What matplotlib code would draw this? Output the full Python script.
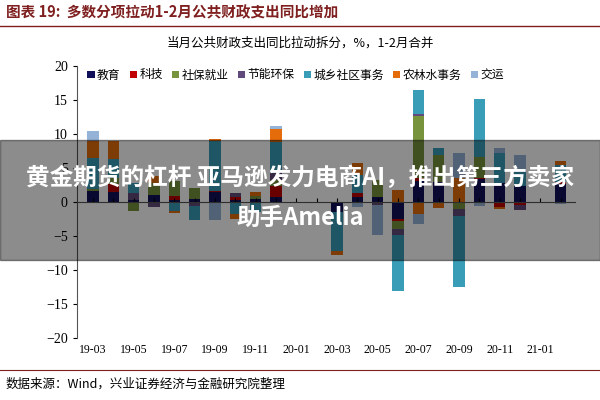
import numpy as np
import matplotlib
matplotlib.use("Agg")
import matplotlib.pyplot as plt
from matplotlib.patches import Rectangle

plt.rcParams['font.family'] = ['Noto Sans CJK SC']

months = ["19-03","19-04","19-05","19-06","19-07","19-08","19-09","19-10","19-11","19-12",
          "20-01","20-02","20-03","20-04","20-05","20-06","20-07","20-08","20-09","20-10",
          "20-11","20-12","21-01","21-02"]
tick_labels = ["19-03","19-05","19-07","19-09","19-11","20-01","20-03","20-05","20-07","20-09","20-11","21-01"]
series_names = ["教育","科技","社保就业","节能环保","城乡社区事务","农林水事务","交运"]
edu   = [1.6, 1.5, 0.3, 1.0, 0.3, 0.4, 1.5, 0.3, 0.4, 0.8, 0, 0, -1.5, 0.8, 0.8, -2.5, 3.1, 2.9, 0, 3.4, 2.8, 2.3, 0, 2.6]
tech  = [0, 1.2, 0, 0, 0.6, 0, 0.1, 0.5, 0, 1.6, 0, 0, 0, 0.5, 0, -0.3, 0.5, 0, 0, 0.2, -0.7, -0.4, 0, 0.3]
soc   = [0.3, 0.9, -1.3, 1.8, 2.2, 1.6, 0, 0, 0.5, 0.8, 0, 0, 0, 0, 2.4, -1.2, 9.0, 4.0, -1.1, 3.0, 0, 0, 0, 0]
env   = [0, 0, 1.0, -0.8, 0, -0.6, -0.2, 0.5, 0, 1.0, 0, 0, 0, 0, -0.5, -0.8, 0.3, 0, -1.0, 0, 0, -0.8, 0, 0]
urban = [4.6, 2.7, 1.5, 0, -1.3, -2.1, 7.3, -1.7, -1.5, 4.6, 0, 0, -5.7, 2.6, 0, -8.3, 3.6, 1.0, -10.4, 8.6, 4.4, 2.1, 0, 2.6]
agri  = [2.4, 2.7, 0, 1.0, -0.3, 0, 0.4, -0.8, 0.5, 1.9, 0, 0, -0.6, 1.8, 0, 1.8, -1.7, -0.9, 3.6, 0, -0.3, 0, 0, 0.5]
trans = [1.6, 0, 0, 0, 0, 0, -2.5, 0, 0, 0.5, 0, 0, 0, -0.8, -4.3, 0, -1.6, 0, 3.6, -0.6, 0.8, 2.5, 0, -0.3]
colors = ["#10105A","#C00000","#77933C","#604A7B","#3A9DB8","#E46C0A","#95B3D7"]

data = [edu, tech, soc, env, urban, agri, trans]

fig = plt.figure(figsize=(6, 4), dpi=100)
ax = fig.add_axes([0.128, 0.155, 0.83, 0.68])
x = np.arange(len(months))
pos_base = np.zeros(len(months))
neg_base = np.zeros(len(months))
for name, vals, c in zip(series_names, data, colors):
    v = np.array(vals, dtype=float)
    p = np.where(v > 0, v, 0)
    n = np.where(v < 0, v, 0)
    ax.bar(x, p, 0.55, bottom=pos_base, color=c, label=name)
    ax.bar(x, n, 0.55, bottom=neg_base, color=c)
    pos_base += p
    neg_base += n

ax.set_ylim(-20, 20)
ax.set_xlim(-0.8, len(months) - 0.3)
ax.set_yticks(range(-20, 21, 5))
ax.tick_params(axis='y', labelsize=10, length=3, direction='out')
for t in ax.get_yticklabels():
    t.set_fontfamily('Liberation Serif')
ax.set_xticks(x)
ax.set_xticklabels([])
ax.tick_params(axis='x', length=3, direction='in')
ax.spines['top'].set_visible(False)
ax.spines['right'].set_visible(False)
ax.spines['bottom'].set_position(('data', 0))
ax.spines['bottom'].set_color('#555555')
ax.spines['left'].set_color('#555555')
for i, lab in zip(range(0, 24, 2), tick_labels):
    ax.text(i, -21.8, lab, ha='center', va='center', fontsize=8.5, fontfamily='Liberation Serif')

ax.legend(loc='upper left', bbox_to_anchor=(0.0, 1.03), ncol=7, frameon=False,
          fontsize=8.5, handlelength=0.6, handleheight=0.6, columnspacing=0.8, handletextpad=0.2)

fig.text(0.5, 0.892, "当月公共财政支出同比拉动拆分，%，1-2月合并", ha='center', va='center', fontsize=9)
fig.text(0.01, 0.968, "图表 19:  多数分项拉动1-2月公共财政支出同比增加", ha='left', va='center',
         fontsize=10.5, fontweight='bold', color='#7F1F1F')
fig.add_artist(plt.Line2D([0, 1], [0.935, 0.935], color='#7F1F1F', lw=1))
fig.text(0.01, 0.04, "数据来源：Wind，兴业证券经济与金融研究院整理", ha='left', va='center', fontsize=9)
fig.add_artist(plt.Line2D([0, 1], [0.075, 0.075], color='#7F1F1F', lw=0.8))

# watermark overlay
fig.add_artist(Rectangle((0, 0.35), 1, 0.3, transform=fig.transFigure, color='#000000', alpha=0.45, zorder=10))
fig.text(0.5, 0.555, "黄金期货的杠杆 亚马逊发力电商AI，推出第三方卖家", ha='center', va='center',
         fontsize=17, fontweight='bold', color='white', zorder=11)
fig.text(0.5, 0.455, "助手Amelia", ha='center', va='center', fontsize=17, fontweight='bold', color='white', zorder=11)

fig.savefig("out.png", dpi=100)
